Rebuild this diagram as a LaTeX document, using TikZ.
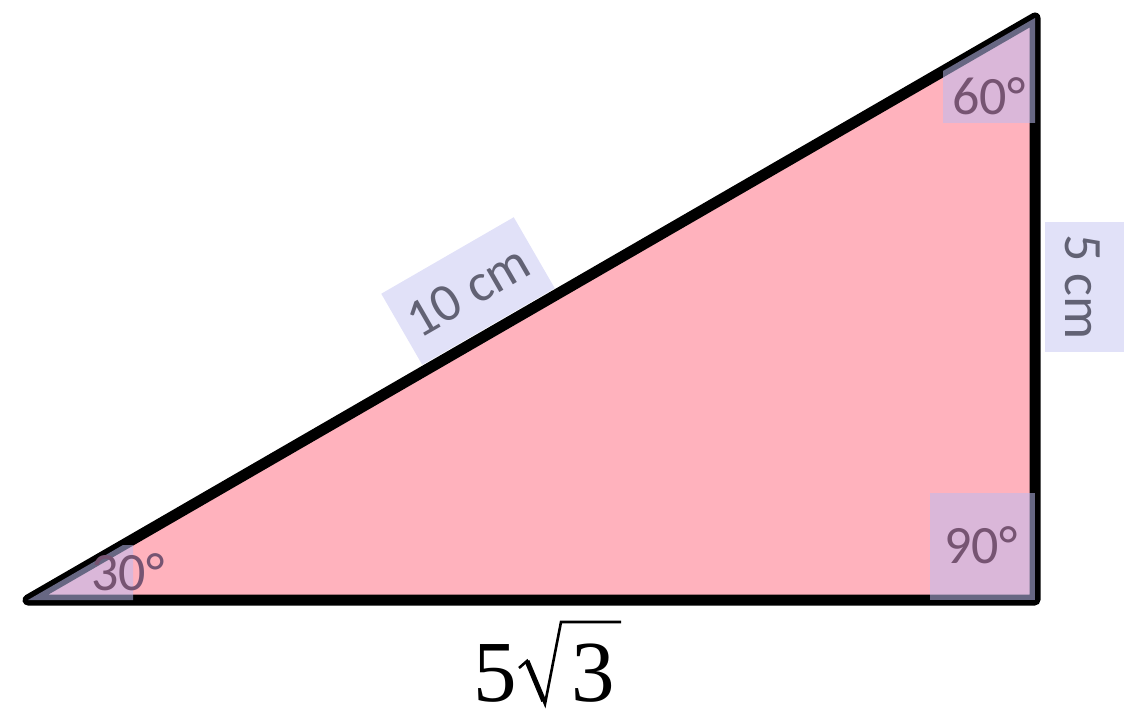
\documentclass[tikz,border=0pt]{standalone}
\usepackage{fontspec}
\usetikzlibrary{calc}
\setmainfont{Carlito}
\newfontfamily\libserif{Liberation Serif}
\definecolor{tripink}{RGB}{255,178,189}
\definecolor{lav}{RGB}{188,188,240}
\definecolor{angtext}{RGB}{118,84,114}
\definecolor{lentext}{RGB}{98,98,116}
\tikzset{
  anglebox/.style={fill=lav, fill opacity=0.55, draw=none},
  anglelabel/.style={anchor=base, text=angtext, inner sep=0pt, font=\fontsize{54}{56}\selectfont},
  lenbox/.style={fill=lav, fill opacity=0.45, text opacity=1, text=lentext, inner sep=0pt, font=\fontsize{54}{56}\selectfont},
  side/.style={line width=11pt, line join=round, line cap=round},
  digit/.style={anchor=base, inner sep=0pt, text depth=0pt, font=\fontsize{87}{90}\libserif}
}
\begin{document}
\begin{tikzpicture}[x=1pt,y=-1pt]
\useasboundingbox (0,0) rectangle (1124,714);
\coordinate (A) at (28,600);
\coordinate (B) at (1035,600);
\coordinate (C) at (1035,18);
\fill[tripink] (A) -- (B) -- (C) -- cycle;
\draw[side] (A) -- (B) -- (C) -- cycle;
% angle boxes
\fill[anglebox] (A) -- (133,600) -- (133,545) -- (123,545) -- cycle;
\fill[anglebox] (C) -- (1035,123) -- (943,123) -- (943,71) -- cycle;
\fill[anglebox] (930,493) rectangle (B);
% angle labels
\node[anglelabel] (a30) at (128,590) {30°};
\node[anglelabel] (a60) at (989,115) {60°};
\node[anglelabel] (a90) at (981,563) {90°};
% length labels
\node[lenbox, rotate=30, minimum width=153pt, minimum height=82pt] (hyp) at (468,291) {10 cm};
\fill[lav, fill opacity=0.45] (1045,222) rectangle (1124,352);
\node[text=lentext, rotate=-90, inner sep=0pt, font=\fontsize{54}{56}\selectfont] (vert) at (1083,287) {5 cm};
% base label 5 sqrt 3
\node[digit] (five) at (495,701) {5};
\node[digit] (three) at (593,701) {3};
\coordinate (r1) at (519,668);
\coordinate (r2) at (527,661);
\coordinate (r3) at (545,704);
\coordinate (r4) at (561,622);
\coordinate (r5) at (621,622);
\draw[line width=2.6pt, line join=miter] (r1) -- (r2) -- (r3) -- (r4) -- (r5);
\draw[line width=5pt, line cap=butt] (r2) -- ($(r2)!0.93!(r3)$);
\end{tikzpicture}
\end{document}
